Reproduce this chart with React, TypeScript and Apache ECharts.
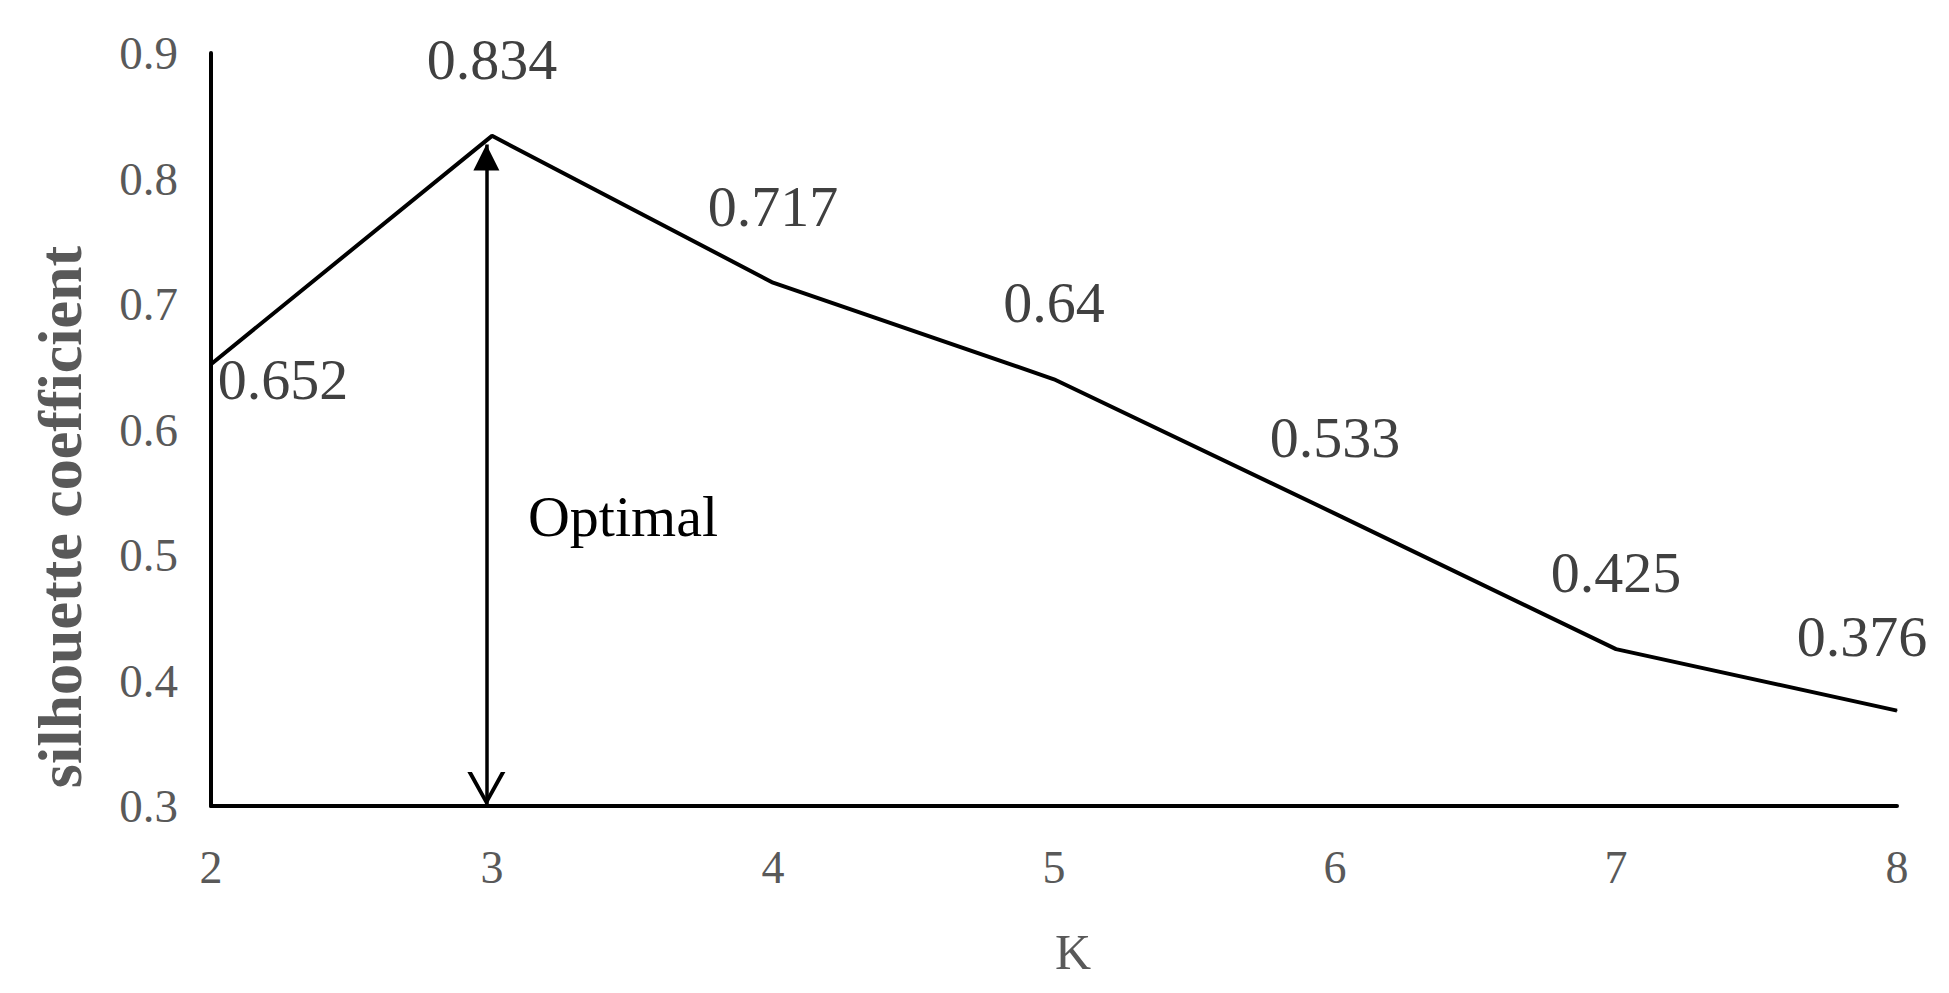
import React, { useEffect, useRef } from 'react';
import * as echarts from 'echarts';

const kValues = [2, 3, 4, 5, 6, 7, 8];
const silhouette = [0.652, 0.834, 0.717, 0.64, 0.533, 0.425, 0.376];
const yMin = 0.3;
const yMax = 0.9;
const yStep = 0.1;
const arrowK = 2.98;
const arrowFrom = 0.3;
const arrowTo = 0.827;
const annotationText = 'Optimal';
const xTitle = 'K';
const yTitle = 'silhouette coefficient';

const SERIF = "'Liberation Serif', 'DejaVu Serif', serif";

export default function App() {
  const ref = useRef<HTMLDivElement>(null);
  useEffect(() => {
    if (!ref.current) return;
    const chart = echarts.init(ref.current, undefined, { renderer: 'svg' });
    const labelOffsets: Record<number, [number, number]> = {
      0: [72, 92],
      6: [-35, 2],
    };
    const data = kValues.map((k, i) => ({
      value: [k, silhouette[i]],
      label: labelOffsets[i] ? { offset: labelOffsets[i] } : undefined,
    }));
    chart.setOption({
      animation: false,
      backgroundColor: '#ffffff',
      grid: { left: 211, right: 52, top: 53, bottom: 187, containLabel: false },
      xAxis: {
        type: 'value',
        min: 2,
        max: 8,
        interval: 1,
        name: xTitle,
        nameLocation: 'middle',
        nameGap: 121,
        nameTextStyle: {
          fontFamily: SERIF,
          fontSize: 50,
          color: '#595959',
          padding: [0, 0, 0, 38],
        },
        axisLine: { show: true, onZero: false, lineStyle: { color: '#000', width: 4 } },
        axisTick: { show: false },
        splitLine: { show: false },
        axisLabel: { fontFamily: SERIF, fontSize: 46, color: '#595959', margin: 38 },
      },
      yAxis: {
        type: 'value',
        min: yMin,
        max: yMax,
        interval: yStep,
        axisLine: { show: true, onZero: false, lineStyle: { color: '#000', width: 4 } },
        axisTick: { show: false },
        splitLine: { show: false },
        axisLabel: {
          fontFamily: SERIF,
          fontSize: 47,
          color: '#595959',
          margin: 33,
          formatter: (v: number) => v.toFixed(1),
        },
      },
      graphic: [
        {
          type: 'text',
          x: 60,
          y: 517,
          rotation: Math.PI / 2,
          style: {
            text: yTitle,
            fontFamily: SERIF,
            fontWeight: 'bold',
            fontSize: 62,
            fill: '#595959',
            align: 'center',
            verticalAlign: 'middle',
          },
        },
        {
          type: 'text',
          x: 623,
          y: 516,
          style: {
            text: annotationText,
            fontFamily: SERIF,
            fontSize: 58,
            fill: '#000',
            align: 'center',
            verticalAlign: 'middle',
          },
        },
      ],
      series: [
        {
          type: 'line',
          data,
          symbol: 'circle',
          symbolSize: 1,
          itemStyle: { color: '#000' },
          lineStyle: { color: '#000', width: 4 },
          label: {
            show: true,
            position: 'top',
            distance: 47,
            fontFamily: SERIF,
            fontSize: 58,
            color: '#404040',
            formatter: (p: any) => String(p.value[1]),
          },
          markLine: {
            silent: true,
            animation: false,
            label: { show: false },
            lineStyle: { color: '#000', width: 3.5, type: 'solid' },
            data: [
              [
                {
                  coord: [arrowK, arrowFrom],
                  symbol: 'path://M0,20 L10,0 L20,20 L17.6,20 L10,4.6 L2.4,20 Z',
                  symbolSize: [38, 34],
                  symbolOffset: [0, 17],
                },
                {
                  coord: [arrowK, arrowTo],
                  symbol: 'triangle',
                  symbolSize: [26, 26],
                  symbolOffset: [0, 13],
                },
              ],
            ],
          },
        },
      ],
    });
    return () => chart.dispose();
  }, []);
  return (
    <div
      ref={ref}
      style={{ position: 'fixed', left: 0, top: 0, width: 1949, height: 993 }}
    />
  );
}
